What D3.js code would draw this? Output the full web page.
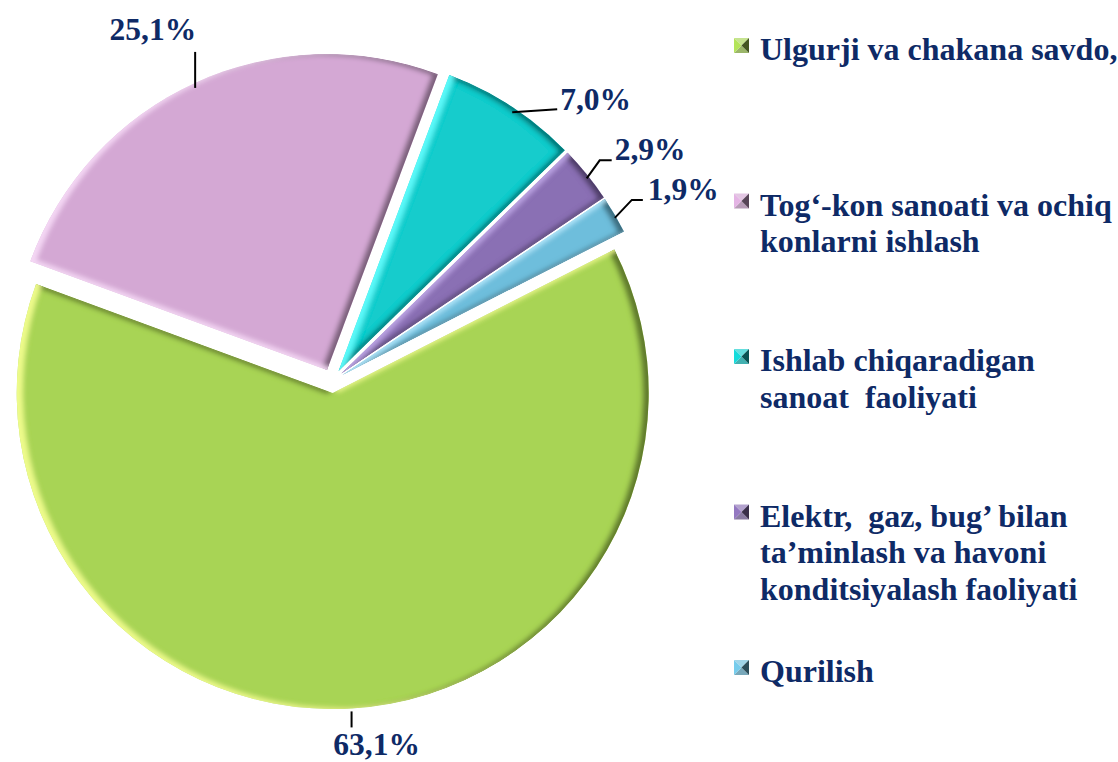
<!DOCTYPE html>
<html>
<head>
<meta charset="utf-8">
<script src="https://cdn.jsdelivr.net/npm/d3@7"></script>
<style>
    body { margin: 0; background: #fff; }
    text { font-family: "Liberation Serif", "Times New Roman", serif; font-weight: bold; fill: #0e2a66; }
</style>
</head>
<body>
<script>
// Chart data
var categories = [
    "Ulgurji va chakana savdo,",
    "Tog‘-kon sanoati va ochiq konlarni ishlash",
    "Ishlab chiqaradigan sanoat  faoliyati",
    "Elektr,  gaz, bug’ bilan ta’minlash va havoni konditsiyalash faoliyati",
    "Qurilish"
];
var values = [63.1, 25.1, 7.0, 2.9, 1.9];
var valueLabels = ["63,1%", "25,1%", "7,0%", "2,9%", "1,9%"];

// Legend text broken into lines as in the original
var legendLines = [
    ["Ulgurji va chakana savdo,"],
    ["Tog‘-kon sanoati va ochiq", "konlarni ishlash"],
    ["Ishlab chiqaradigan", "sanoat  faoliyati"],
    ["Elektr,  gaz, bug’ bilan", "ta’minlash va havoni", "konditsiyalash faoliyati"],
    ["Qurilish"]
];

var colors = ["#a8d454", "#d4a8d4", "#14cccc", "#8a70b4", "#6ebedc"];
var highlights = ["#f4ff90", "#f8dcf8", "#60ffff", "#c0a8e8", "#b8ecff"];

// Leader lines / label placement relative to the slice's outer point
var labelLayout = [
    { line: [[0, 3], [0, 19]], text: [25, 47], anchor: "middle" },
    { line: [[0, 5], [0, -31]], text: [1, -43], anchor: "end" },
    { line: [[1, 6], [46, 3]], text: [49, 4], anchor: "start" },
    { line: [[0, 4], [13, -14], [25, -14]], text: [28, -14], anchor: "start" },
    { line: [[0, 3], [17, -15], [28, -15]], text: [33, -15], anchor: "start" }
];

var width = 1118, height = 762;
var cx = 332, cy = 381, radius = 316, explode = 12;
var rotation = 63 * Math.PI / 180;

var svg = d3.select("body").append("svg")
    .attr("width", width)
    .attr("height", height);

var defs = svg.append("defs");

// Bevel filter for each slice: dark rim on the right, light rim on the left
colors.forEach(function (c, i) {
    var f = defs.append("filter").attr("id", "bevel" + i)
        .attr("x", "-10%").attr("y", "-10%").attr("width", "120%").attr("height", "120%");
    f.append("feGaussianBlur").attr("in", "SourceAlpha").attr("stdDeviation", 2.5).attr("result", "blur");
    f.append("feOffset").attr("in", "blur").attr("dx", -6).attr("dy", 1).attr("result", "offS");
    f.append("feComposite").attr("in", "SourceAlpha").attr("in2", "offS")
        .attr("operator", "arithmetic").attr("k2", 1).attr("k3", -1).attr("result", "maskS");
    f.append("feFlood").attr("flood-color", "#000").attr("flood-opacity", 0.7).attr("result", "dark");
    f.append("feComposite").attr("in", "dark").attr("in2", "maskS").attr("operator", "in").attr("result", "shadow");
    f.append("feOffset").attr("in", "blur").attr("dx", 6).attr("dy", -1).attr("result", "offH");
    f.append("feComposite").attr("in", "SourceAlpha").attr("in2", "offH")
        .attr("operator", "arithmetic").attr("k2", 1).attr("k3", -1).attr("result", "maskH");
    f.append("feFlood").attr("flood-color", highlights[i]).attr("flood-opacity", 0.9).attr("result", "light");
    f.append("feComposite").attr("in", "light").attr("in2", "maskH").attr("operator", "in").attr("result", "hl");
    var m = f.append("feMerge");
    m.append("feMergeNode").attr("in", "SourceGraphic");
    m.append("feMergeNode").attr("in", "shadow");
    m.append("feMergeNode").attr("in", "hl");
});

var pie = d3.pie()
    .sort(null)
    .value(function (d) { return d; })
    .startAngle(rotation)
    .endAngle(rotation + 2 * Math.PI);

var arc = d3.arc().innerRadius(0).outerRadius(radius);

var arcs = pie(values);

// Offset of each exploded slice
function shift(d) {
    var mid = (d.startAngle + d.endAngle) / 2;
    return [cx + explode * Math.sin(mid), cy - explode * Math.cos(mid)];
}

svg.selectAll("path.slice")
    .data(arcs)
    .enter().append("path")
    .attr("class", "slice")
    .attr("transform", function (d) { var s = shift(d); return "translate(" + s[0] + "," + s[1] + ")"; })
    .attr("d", arc)
    .attr("fill", function (d, i) { return colors[i]; })
    .attr("filter", function (d, i) { return "url(#bevel" + i + ")"; });

// Data labels with leader lines
arcs.forEach(function (d, i) {
    var s = shift(d);
    var mid = (d.startAngle + d.endAngle) / 2;
    var ax = s[0] + radius * Math.sin(mid);
    var ay = s[1] - radius * Math.cos(mid);
    var lay = labelLayout[i];
    var pts = lay.line.map(function (p) { return [ax + p[0], ay + p[1]]; });
    svg.append("path")
        .attr("d", d3.line()(pts))
        .attr("fill", "none")
        .attr("stroke", "#000")
        .attr("stroke-width", 2);
    svg.append("text")
        .attr("x", ax + lay.text[0])
        .attr("y", ay + lay.text[1])
        .attr("text-anchor", lay.anchor)
        .attr("font-size", 31.5)
        .text(valueLabels[i]);
});

// Legend
var legendX = 734, legendTop = 60, legendStep = 155.5, lineHeight = 36.5, box = 15;

legendLines.forEach(function (lines, i) {
    var base = legendTop + i * legendStep;
    var g = svg.append("g").attr("transform", "translate(" + legendX + "," + (base - 22) + ")");
    var c = d3.color(colors[i]);
    var tris = [
        { p: [[0, 0], [box, 0], [box / 2, box / 2]], f: d3.interpolateRgb(c, "#fff")(0.35) },
        { p: [[0, box], [box, box], [box / 2, box / 2]], f: d3.interpolateRgb(c, "#888")(0.4) },
        { p: [[0, 0], [0, box], [box / 2, box / 2]], f: c.brighter(0.2) },
        { p: [[box, 0], [box, box], [box / 2, box / 2]], f: c.darker(2.5) }
    ];
    tris.forEach(function (t) {
        g.append("path").attr("d", d3.line()(t.p) + "Z").attr("fill", t.f);
    });
    var txt = svg.append("text")
        .attr("x", legendX + 26)
        .attr("y", base)
        .attr("font-size", 32)
        .style("white-space", "pre");
    lines.forEach(function (l, j) {
        txt.append("tspan")
            .attr("x", legendX + 26)
            .attr("y", base + j * lineHeight)
            .text(l);
    });
});
</script>
</body>
</html>
